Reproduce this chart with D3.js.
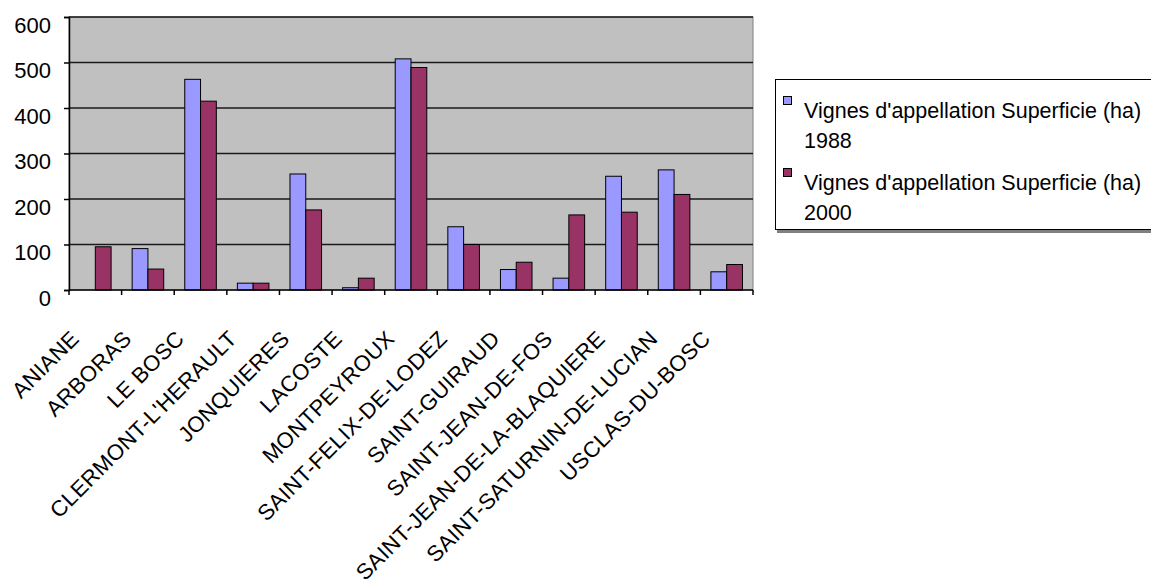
<!DOCTYPE html>
<html>
<head>
<meta charset="utf-8">
<script src="https://cdn.jsdelivr.net/npm/d3@7"></script>
<style>
  html, body { margin: 0; padding: 0; background: #fff; }
  svg { display: block; font-family: "Liberation Sans", Arial, sans-serif; }
</style>
</head>
<body>
<svg id="chart" width="1151" height="587"></svg>
<script>
const categories = ["ANIANE", "ARBORAS", "LE BOSC", "CLERMONT-L'HERAULT", "JONQUIERES", "LACOSTE", "MONTPEYROUX", "SAINT-FELIX-DE-LODEZ", "SAINT-GUIRAUD", "SAINT-JEAN-DE-FOS", "SAINT-JEAN-DE-LA-BLAQUIERE", "SAINT-SATURNIN-DE-LUCIAN", "USCLAS-DU-BOSC"];
const values1988 = [0, 91, 463, 15, 255, 5, 508, 139, 45, 26, 250, 264, 40];
const values2000 = [95, 46, 415, 15, 176, 26, 489, 100, 61, 165, 171, 210, 56];
const seriesNames = ["Vignes d'appellation Superficie (ha) 1988", "Vignes d'appellation Superficie (ha) 2000"];
const seriesLines = [["Vignes d'appellation Superficie (ha)", "1988"], ["Vignes d'appellation Superficie (ha)", "2000"]];
const yTicks = [0, 100, 200, 300, 400, 500, 600];
const colors = ["#9999FF", "#993366"];

const svg = d3.select("#chart");
const plot = { left: 69, right: 753, top: 17, bottom: 290 };
const FS = 22;
const LFS = 21.5;

const x0 = d3.scaleBand().domain(categories).range([plot.left, plot.right]).paddingInner(0.4).paddingOuter(0.2);
const x1 = d3.scaleBand().domain([0, 1]).range([0, x0.bandwidth()]);
const y = d3.scaleLinear().domain([0, 600]).range([plot.bottom, plot.top]);
const step = x0.step();

// plot background
svg.append("rect")
  .attr("x", plot.left).attr("y", plot.top)
  .attr("width", plot.right - plot.left).attr("height", plot.bottom - plot.top)
  .attr("fill", "#C0C0C0").attr("stroke", "#808080").attr("stroke-width", 1);

// gridlines
svg.append("g").selectAll("line").data(yTicks.filter(d => d > 0)).join("line")
  .attr("x1", plot.left).attr("x2", plot.right)
  .attr("y1", d => y(d)).attr("y2", d => y(d))
  .attr("stroke", "#1a1a1a").attr("stroke-width", 1.5);

// bars
const series = [values1988, values2000];
series.forEach((vals, si) => {
  svg.append("g").selectAll("rect").data(categories).join("rect")
    .attr("x", c => x0(c) + x1(si))
    .attr("width", x1.bandwidth())
    .attr("y", (c, i) => y(vals[i]))
    .attr("height", (c, i) => y(0) - y(vals[i]))
    .attr("fill", colors[si])
    .attr("stroke", "#000").attr("stroke-width", 1)
    .attr("display", (c, i) => vals[i] > 0 ? null : "none");
});

// y axis
const yAxis = d3.axisLeft(y).tickValues(yTicks).tickSize(5).tickPadding(13);
const gy = svg.append("g").attr("transform", `translate(${plot.left},0)`).call(yAxis);
gy.select(".domain").attr("stroke", "#000").attr("stroke-width", 1.5);
gy.selectAll(".tick line").attr("stroke", "#000").attr("stroke-width", 1.5);
gy.selectAll(".tick text")
  .attr("font-size", FS).attr("font-family", "Liberation Sans, Arial, sans-serif")
  .attr("fill", "#000").attr("dy", "0.7em");

// x axis line and ticks at band boundaries
const boundaries = categories.map(c => x0(c) - step * 0.2).concat([plot.right]);
svg.append("line").attr("x1", plot.left).attr("x2", plot.right)
  .attr("y1", plot.bottom).attr("y2", plot.bottom)
  .attr("stroke", "#000").attr("stroke-width", 1.5);
svg.append("g").selectAll("line").data(boundaries).join("line")
  .attr("x1", d => d).attr("x2", d => d)
  .attr("y1", plot.bottom).attr("y2", plot.bottom + 5)
  .attr("stroke", "#000").attr("stroke-width", 1.5);

// x labels rotated
svg.append("g").selectAll("text").data(categories).join("text")
  .attr("transform", c => `translate(${x0(c) + x0.bandwidth() / 2 - 15},${340}) rotate(-45)`)
  .attr("text-anchor", "end")
  .attr("font-size", FS)
  .attr("letter-spacing", "0.35px")
  .attr("fill", "#000")
  .text(c => c);

// legend
const lg = svg.append("g");
lg.append("rect").attr("x", 777).attr("y", 81).attr("width", 380).attr("height", 152).attr("fill", "#808080");
lg.append("rect").attr("x", 775.5).attr("y", 79.5).attr("width", 380).attr("height", 150)
  .attr("fill", "#fff").attr("stroke", "#000").attr("stroke-width", 1);
const entryY = [96, 168];
seriesLines.forEach((lines, i) => {
  lg.append("rect").attr("x", 783.5).attr("y", entryY[i] + 0.5).attr("width", 8).attr("height", 8)
    .attr("fill", colors[i]).attr("stroke", "#000").attr("stroke-width", 1);
  lines.forEach((t, j) => {
    lg.append("text").attr("x", 804).attr("y", entryY[i] + 22 + j * 30)
      .attr("font-size", LFS).attr("fill", "#000").text(t);
  });
});
</script>
</body>
</html>
